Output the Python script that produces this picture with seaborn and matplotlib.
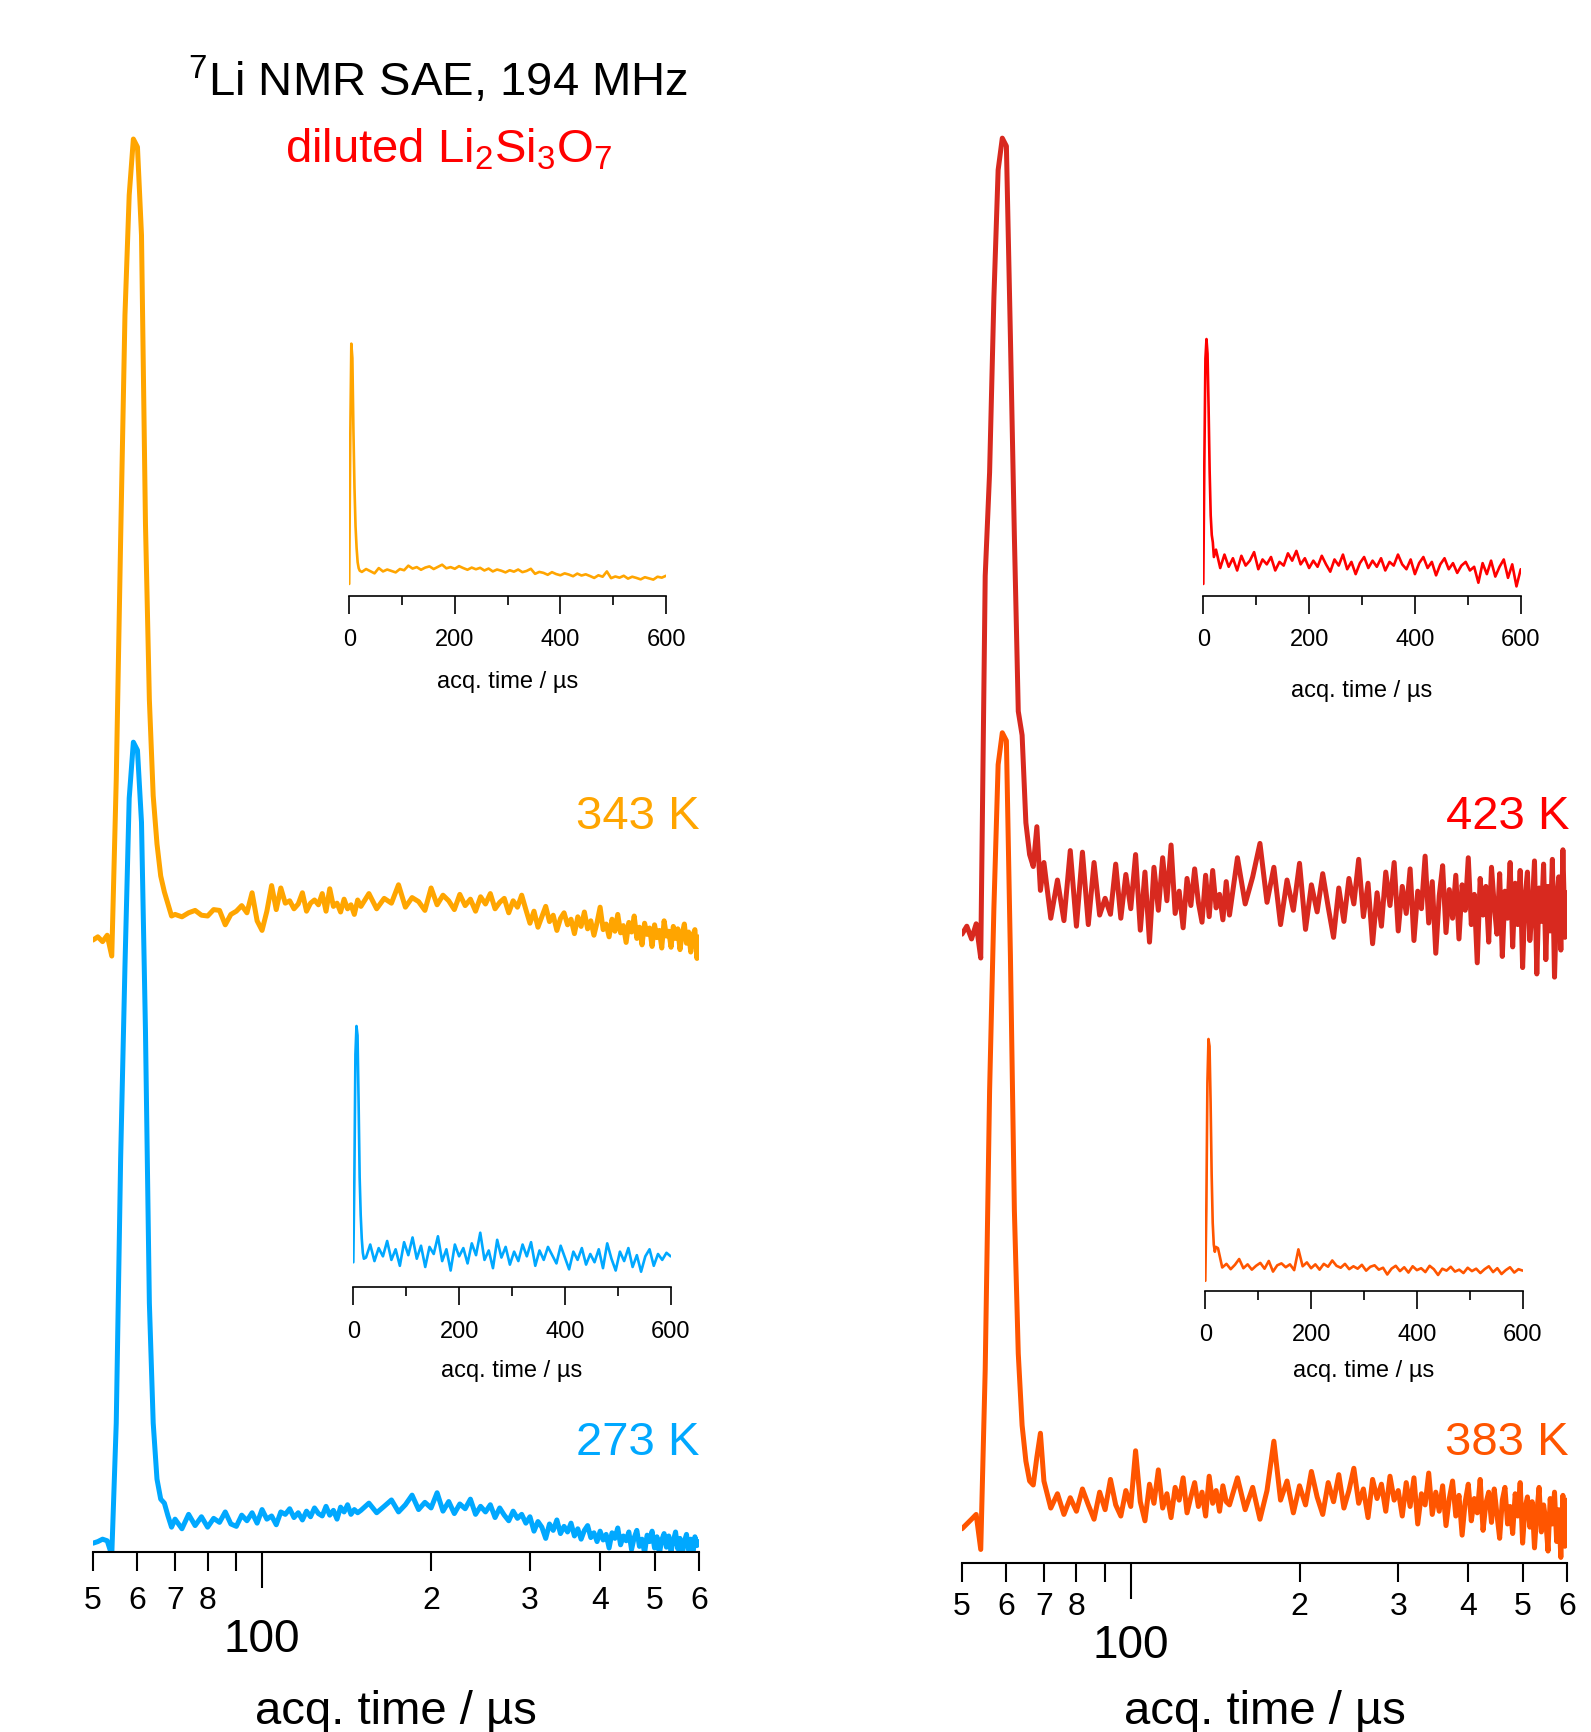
import numpy as np
import pandas as pd
import matplotlib
matplotlib.use('Agg')
import matplotlib.pyplot as plt
from matplotlib.ticker import FixedLocator, FixedFormatter
import seaborn as sns

sns.set_style('white')
plt.rcParams['font.family'] = ['Liberation Sans', 'DejaVu Sans']
plt.rcParams['mathtext.fontset'] = 'custom'
plt.rcParams['mathtext.rm'] = 'Liberation Sans'
plt.rcParams['mathtext.it'] = 'Liberation Sans:italic'
plt.rcParams['text.color'] = 'black'
plt.rcParams['axes.labelcolor'] = 'black'
plt.rcParams['xtick.color'] = 'black'
plt.rcParams['xtick.labelcolor'] = 'black'

# acquisition time grids (us)
t_main = np.concatenate([np.arange(50, 70), np.arange(70, 150, 2), np.arange(150, 601, 5)])
t_inset = np.concatenate([np.arange(0, 21, 2), np.arange(24, 601, 8)])

# main SAE traces, % of echo maximum
sae_343 = [0.0, 0.4, -0.2, 0.6, -2.0, 20, 50, 78, 93, 100, 99, 88, 52, 30, 18, 12, 8, 6, 4.5, 3.0,
           3.2, 2.9, 3.4, 3.7, 3.1, 3.0, 3.8, 3.7, 1.9, 3.2, 3.6, 4.3, 3.4, 5.9, 2.4, 1.2, 3.6, 6.8, 3.8, 6.5,
           4.6, 4.9, 3.9, 4.5, 5.9, 3.6, 4.6, 5.0, 4.4, 5.8, 3.6, 6.4, 4.2, 4.6, 3.5, 5.1, 3.9, 4.4, 3.2, 5.0,
           4.2, 5.8, 3.9, 5.2, 4.6, 6.9, 4.1, 5.3, 4.8, 3.7, 6.5, 4.4, 5.6, 4.9, 3.8, 5.7, 4.3, 5.1, 3.6, 5.4,
           4.5, 5.8, 3.9, 4.7, 5.2, 3.4, 4.9, 4.1, 5.6, 3.8, 2.1, 3.6, 1.6, 2.9, 4.2, 2.3, 3.1, 1.2, 2.7, 3.4,
           1.9, 2.6, 0.8, 2.9, 1.7, 3.5, 1.4, 2.4, 0.6, 2.2, 4.1, 1.3, 2.0, 0.4, 2.6, 1.1, 3.2, 0.9, 1.8, -0.3,
           2.2, 1.0, 3.0, 0.2, 1.6, -0.6, 2.1, 0.7, 1.5, -0.8, 1.9, 0.3, 1.2, -1.0, 2.4, 0.5, 1.1, -0.9, 1.7, 0.2,
           1.4, -1.2, 0.8, 2.0, -0.4, 1.0, -1.5, 0.6, 1.3, -2.3, 0.4]
sae_273 = [0.0, 0.2, 0.5, 0.3, -1.5, 15, 48, 72, 93, 100, 99, 90, 64, 30, 15, 8, 5.5, 5.0, 3.4, 2.0,
           3.0, 1.8, 3.6, 2.2, 3.3, 2.0, 3.1, 2.6, 3.9, 2.4, 2.1, 3.5, 2.8, 3.8, 2.5, 4.2, 3.0, 3.4, 2.3, 3.9,
           3.6, 4.3, 3.2, 3.8, 2.9, 4.0, 3.3, 4.4, 3.7, 3.4, 4.6, 3.5, 4.1, 3.0, 4.5, 3.9, 4.8, 3.6, 4.2, 3.8,
           4.1, 5.0, 3.8, 4.6, 5.4, 3.9, 4.8, 6.0, 4.2, 5.1, 4.4, 6.3, 4.0, 5.2, 3.7, 4.9, 4.3, 5.5, 3.6, 4.6,
           3.9, 4.8, 3.2, 4.4, 3.5, 2.8, 4.0, 3.1, 3.6, 2.5, 3.3, 1.5, 2.7, 2.0, 0.6, 2.4, 1.6, 2.9, 1.2, 2.1,
           1.4, 2.5, 0.9, 1.8, 0.5, 1.6, 2.2, 0.7, 1.3, 0.2, 1.5, 0.4, 1.1, -0.6, 1.3, 0.6, 1.9, -0.2, 0.9, 0.3,
           1.4, -0.8, 0.7, 1.6, -0.4, 0.5, -1.2, 1.0, 0.2, 1.5, -0.6, 0.8, -1.3, 0.4, 1.2, -0.5, 0.9, -1.0, 0.3, 1.4,
           -0.7, 0.6, -1.4, 0.2, 1.1, -0.9, 0.5, -1.5, 0.8, -0.3, 0.2]
sae_423 = [0.0, 1.0, -0.6, 1.3, -3.0, 45, 58, 80, 96, 100, 99, 75, 50, 28, 25, 14, 10, 8.5, 13.5, 5.5,
           9.0, 2.0, 6.8, 1.7, 10.5, 1.0, 10.3, 1.2, 9.0, 2.4, 4.5, 2.5, 8.8, 2.0, 7.5, 3.2, 10.0, 0.5, 7.8, -1.0,
           8.4, 3.0, 9.6, 4.2, 11.2, 2.6, 5.4, 0.8, 7.0, 3.6, 8.2, 4.0, 1.5, 7.4, 2.2, 8.0, 3.3, 5.0, 1.8, 6.6,
           2.4, 9.6, 3.8, 7.2, 11.4, 4.0, 8.4, 1.2, 6.8, 3.0, 8.9, 0.6, 6.2, 2.8, 7.6, 3.4, -0.4, 5.8, 1.6, 7.0,
           3.8, 9.4, 2.2, 6.4, -1.2, 5.2, 1.0, 7.8, 3.6, 9.0, 0.4, 6.0, 2.6, 8.2, -0.8, 5.4, 3.2, 9.8, 1.4, 6.6,
           -2.4, 4.8, 8.6, 0.2, 5.6, 2.0, 7.4, -0.6, 6.2, 3.0, 9.6, 1.2, 5.0, -3.6, 7.0, 2.4, 6.0, -1.0, 8.4, 3.6,
           0.0, 7.6, -2.8, 5.4, 2.0, 9.0, -1.6, 6.4, 1.2, 8.0, -4.2, 4.6, 7.8, -0.8, 3.0, 9.2, -5.0, 5.8, 1.6, 8.8,
           -3.2, 6.0, 0.4, 9.4, -5.4, 4.2, 7.2, -2.0, 10.6, -0.4, 5.2]
sae_383 = [0.0, 0.6, 1.2, 1.8, -2.6, 20, 55, 78, 96, 100, 99, 72, 40, 22, 13, 8.5, 6.0, 5.5, 9.0, 12.0,
           6.0, 2.6, 4.4, 1.8, 3.9, 2.2, 5.0, 3.0, 1.2, 4.6, 2.4, 6.2, 3.0, 1.6, 4.8, 2.8, 9.8, 3.4, 1.0, 5.6,
           3.2, 7.4, 2.6, 4.4, 1.4, 5.2, 3.6, 6.4, 2.0, 4.0, 5.8, 2.8, 4.6, 1.6, 6.6, 3.2, 4.8, 2.2, 5.4, 3.4,
           3.0, 6.4, 2.4, 5.2, 1.2, 4.8, 11.0, 3.6, 6.0, 2.0, 5.4, 3.0, 7.2, 4.0, 1.8, 5.8, 3.4, 6.8, 2.6, 4.8,
           7.6, 3.2, 5.0, 1.4, 6.2, 3.8, 5.6, 2.2, 6.6, 3.6, 4.8, 1.6, 5.8, 2.8, 6.4, 0.6, 4.4, 3.0, 7.0, 1.8,
           4.6, 2.2, 5.4, 0.4, 3.8, 6.0, 1.6, 4.2, -0.8, 3.4, 5.6, 1.0, 3.8, 2.0, 6.2, -0.2, 3.2, 4.6, 0.8, 5.0,
           1.8, -1.2, 3.6, 5.2, 0.6, 2.8, -0.6, 4.4, 1.6, 5.8, -1.8, 2.6, 4.0, 0.2, 3.4, -2.4, 2.0, 5.2, -0.4, 3.0,
           1.0, -2.8, 3.8, 0.6, 4.6, -1.6, 2.4, -3.6, 4.2, -2.2, 3.6]

# inset FIDs on a linear time axis, % of maximum
fid_343 = [0, 60, 100, 94, 64, 40, 24, 15, 9, 6.5, 5.5,
           5.0, 6.2, 5.3, 4.4, 6.6, 5.2, 6.0, 5.4, 4.8, 6.2, 5.7, 7.6, 6.4, 7.0, 5.9, 6.8, 7.3, 6.2, 7.1, 8.0,
           6.5, 7.0, 6.3, 7.4, 6.6, 5.9, 6.8, 6.1, 6.7, 5.6, 6.4, 5.2, 6.0, 5.5, 4.8, 5.7, 5.1, 6.0, 4.9, 5.4,
           6.3, 4.2, 5.0, 4.6, 3.8, 4.9, 4.1, 3.6, 4.4, 3.9, 3.2, 4.3, 3.5, 4.0, 3.3, 2.5, 3.6, 3.0, 5.2, 2.4,
           3.1, 2.6, 3.4, 2.2, 3.0, 2.5, 1.9, 2.8, 2.3, 1.8, 3.0, 2.6, 3.4]
fid_273 = [0, 35, 88, 100, 96, 68, 36, 20, 10, 4, 1.5,
           2.0, 7.5, 0.5, 6.0, 2.5, 9.0, 1.0, 5.5, -1.5, 8.5, 3.0, 10.5, 1.5, 7.0, -2.0, 6.5, 3.5, 11.0, 0.5, 5.5,
           -3.5, 7.5, 2.5, 6.0, -0.5, 8.0, 3.0, 12.5, 1.0, 5.0, -2.5, 9.5, 2.0, 6.5, -1.0, 4.5, 0.5, 7.5, 2.5, 8.5,
           -1.5, 5.0, 1.0, 6.5, 3.0, -0.5, 7.0, 2.0, -3.0, 4.5, 1.0, 6.0, -1.0, 3.5, 0.0, 5.5, -2.5, 8.0, 1.5, -3.5,
           4.5, 0.5, 6.0, -2.0, 3.0, -4.0, 2.5, 5.5, -1.5, 3.5, 1.0, 4.0, 2.5]
fid_423 = [0, 50, 92, 100, 94, 72, 46, 28, 20, 17, 11,
           14.0, 6.5, 12.0, 7.0, 10.5, 5.5, 11.5, 7.5, 9.5, 13.0, 6.0, 10.0, 8.0, 11.0, 5.5, 9.0, 7.5, 12.5, 9.5, 13.5,
           8.0, 10.5, 6.5, 9.5, 7.0, 11.5, 8.0, 5.0, 10.0, 7.5, 12.0, 6.0, 9.0, 4.0, 8.5, 11.0, 6.5, 9.5, 7.0, 10.5,
           5.5, 9.0, 7.5, 12.0, 8.0, 6.0, 10.0, 4.0, 8.5, 11.0, 6.5, 9.0, 3.5, 8.0, 10.5, 6.0, 8.5, 4.5, 7.5, 9.0,
           5.5, 7.0, 0.5, 8.5, 4.0, 9.5, 3.0, 7.0, 10.0, 2.5, 8.0, -1.0, 6.0]
fid_383 = [0, 30, 82, 100, 97, 74, 44, 24, 15, 12, 14,
           13.5, 5.5, 7.0, 4.8, 6.6, 9.0, 5.2, 6.8, 4.6, 6.2, 7.4, 5.0, 8.2, 3.8, 6.4, 7.2, 5.6, 6.8, 4.4, 13.0,
           6.0, 7.6, 5.2, 6.8, 4.6, 7.0, 5.8, 8.4, 6.2, 5.4, 7.0, 4.8, 6.0, 5.0, 6.6, 4.2, 5.8, 6.4, 4.6, 5.4,
           2.6, 5.0, 6.2, 4.0, 5.6, 3.4, 6.0, 4.4, 5.2, 3.6, 6.2, 4.8, 2.4, 5.0, 4.2, 5.8, 3.8, 4.6, 3.2, 5.4,
           4.0, 5.0, 3.2, 4.8, 6.0, 3.6, 5.2, 2.8, 4.4, 5.6, 3.4, 4.8, 4.2]

# offsets of the upper traces in each stack (%)
offset_343 = 75.3
offset_423 = 74.7

minor_ticks = [50, 60, 70, 80, 90, 200, 300, 400, 500, 600]
minor_labels = ['5', '6', '7', '8', '', '2', '3', '4', '5', '6']

c343, c273, c423, c423_fid, c383 = '#FFA500', '#00A8FF', '#D8291F', '#FF0000', '#FF5500'

W, H = 1591, 1733
fig = plt.figure(figsize=(W / 100, H / 100), dpi=100)


def box(x0, x1, yb, yt):
    return [x0 / W, 1 - yb / H, (x1 - x0) / W, (yb - yt) / H]


def trace(ax, t, y, off, color, lw):
    df = pd.DataFrame({'t': t, 'y': np.asarray(y, dtype=float) + off})
    sns.lineplot(data=df, x='t', y='y', ax=ax, color=color, lw=lw,
                 estimator=None, sort=False, legend=False)


def main_axis(ax, ylim, label_y, pads):
    ax.set_xscale('log')
    ax.set_xlim(50, 600)
    ax.set_ylim(*ylim)
    for s in ['left', 'right', 'top']:
        ax.spines[s].set_visible(False)
    ax.spines['bottom'].set_linewidth(1.5)
    ax.spines['bottom'].set_color('black')
    ax.set_yticks([])
    ax.set_ylabel('')
    ax.xaxis.set_major_locator(FixedLocator([100]))
    ax.xaxis.set_major_formatter(FixedFormatter(['100']))
    ax.xaxis.set_minor_locator(FixedLocator(minor_ticks))
    ax.xaxis.set_minor_formatter(FixedFormatter(minor_labels))
    ax.tick_params(axis='x', which='major', bottom=True, direction='out', length=26, width=1.5,
                   color='black', labelcolor='black', labelsize=33, pad=pads[0])
    ax.tick_params(axis='x', which='minor', bottom=True, direction='out', length=13.7, width=1.5,
                   color='black', labelcolor='black', labelsize=23, pad=pads[1])
    ax.set_xlabel('acq. time / µs', fontsize=34, va='baseline', color='black')
    ax.xaxis.set_label_coords(0.5, label_y)
    ax.patch.set_alpha(0)


def inset_axis(ax, ylim, label_y):
    ax.set_xlim(0, 600)
    ax.set_ylim(*ylim)
    for s in ['left', 'right', 'top']:
        ax.spines[s].set_visible(False)
    ax.spines['bottom'].set_linewidth(1.2)
    ax.spines['bottom'].set_color('black')
    ax.set_yticks([])
    ax.set_ylabel('')
    ax.xaxis.set_major_locator(FixedLocator([0, 200, 400, 600]))
    ax.xaxis.set_minor_locator(FixedLocator([100, 300, 500]))
    ax.tick_params(axis='x', which='major', bottom=True, direction='out', length=13.2, width=1.2,
                   color='black', labelcolor='black', labelsize=17, pad=10)
    ax.tick_params(axis='x', which='minor', bottom=True, direction='out', length=6.7, width=1.2,
                   color='black')
    ax.set_xlabel('acq. time / µs', fontsize=17, va='baseline', color='black')
    ax.xaxis.set_label_coords(0.5, label_y)
    ax.patch.set_alpha(0)


# left stack: 273 K and 343 K
axL = fig.add_axes(box(93, 699, 1553, 60))
axL.set_xscale('log')
trace(axL, t_main, sae_273, 0, c273, 3.6)
trace(axL, t_main, sae_343, offset_343, c343, 3.6)
main_axis(axL, (-1.1, -1.1 + 1493 / 8.01), -(1724 - 1553) / 1493, (21, 10))

# right stack: 383 K and 423 K
axR = fig.add_axes(box(962, 1567, 1564, 60))
axR.set_xscale('log')
trace(axR, t_main, sae_383, 0, c383, 3.6)
trace(axR, t_main, sae_423, offset_423, c423, 3.6)
main_axis(axR, (-4.3, -4.3 + 1504 / 7.96), -(1724 - 1564) / 1504, (17, 6.5))

# insets
insets = [
    (box(349.2, 666, 596.7, 330), fid_343, c343, (-4.9, 106.1), -91 / 266.7),
    (box(353.3, 670.7, 1288.3, 1010), fid_273, c273, (-10.6, 107.2), -88.4 / 278.3),
    (box(1203.3, 1520.7, 596.7, 330), fid_423, c423_fid, (-4.8, 104.1), -100 / 266.7),
    (box(1205.3, 1522.7, 1291.7, 1025), fid_383, c383, (-4.1, 106.2), -85.5 / 266.7),
]
for pos, fid, col, yl, ly in insets:
    axi = fig.add_axes(pos)
    trace(axi, t_inset, fid, 0, col, 1.9)
    inset_axis(axi, yl, ly)

# annotations
fig.text(188 / W, 1 - 96 / H, r'$^{7}$Li NMR SAE, 194 MHz', fontsize=34, color='black',
         ha='left', va='baseline')
fig.text(285 / W, 1 - 162 / H, r'diluted Li$_{2}$Si$_{3}$O$_{7}$', fontsize=34, color='#FF0000',
         ha='left', va='baseline')
fig.text(699.5 / W, 1 - 829 / H, '343 K', fontsize=34, color=c343, ha='right', va='baseline')
fig.text(699.5 / W, 1 - 1455 / H, '273 K', fontsize=34, color=c273, ha='right', va='baseline')
fig.text(1569 / W, 1 - 829 / H, '423 K', fontsize=34, color='#FF0000', ha='right', va='baseline')
fig.text(1569 / W, 1 - 1455 / H, '383 K', fontsize=34, color=c383, ha='right', va='baseline')

fig.savefig('out.png', dpi=100, facecolor='white')
